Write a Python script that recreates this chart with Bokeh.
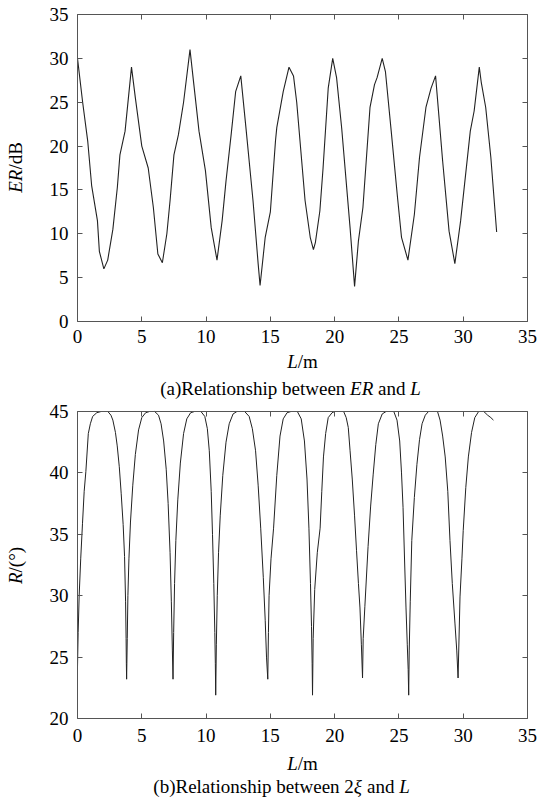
import math
from bokeh.plotting import figure
from bokeh.models import LinearAxis, Range1d, Label, FixedTicker
from bokeh.layouts import column
from bokeh.embed import file_html
from bokeh.resources import INLINE

# ---------------- data ----------------
L_er = [0.0, 0.4, 0.8, 1.1, 1.55, 1.7, 2.05, 2.35, 2.75, 3.1, 3.3, 3.7, 4.2, 4.5, 5.0, 5.5,
        5.9, 6.25, 6.6, 6.95, 7.2, 7.5, 7.85, 8.25, 8.75, 9.05, 9.45, 9.95, 10.4, 10.85,
        11.25, 11.55, 11.95, 12.3, 12.7, 13.1, 13.65, 14.05, 14.2, 14.6, 15.0, 15.4, 15.5,
        16.0, 16.45, 16.8, 17.05, 17.7, 18.1, 18.35, 18.5, 18.85, 19.1, 19.5, 19.85, 20.15,
        20.55, 21.2, 21.55, 21.85, 22.2, 22.75, 23.1, 23.3, 23.7, 23.95, 24.4, 24.9, 25.2,
        25.7, 26.2, 26.6, 27.1, 27.5, 27.85, 28.4, 28.9, 29.35, 29.8, 30.55, 30.85, 31.25,
        31.4, 31.75, 32.15, 32.6]
ER = [30.0, 25.0, 20.5, 15.5, 11.5, 8.0, 6.0, 7.0, 10.5, 15.3, 19.0, 21.7, 29.0, 25.5, 20.0,
      17.5, 13.0, 7.7, 6.7, 10.0, 13.8, 19.0, 21.3, 25.0, 31.0, 27.0, 21.7, 17.2, 10.7, 7.0,
      11.5, 16.0, 21.3, 26.2, 28.0, 22.1, 13.8, 6.6, 4.1, 9.6, 12.5, 20.6, 22.1, 26.2, 29.0,
      28.0, 25.0, 13.8, 9.6, 8.2, 9.0, 12.6, 17.5, 26.6, 30.0, 27.8, 22.0, 10.7, 4.0, 9.2,
      13.0, 24.4, 27.0, 27.8, 30.0, 28.5, 21.7, 14.0, 9.6, 7.0, 12.2, 18.7, 24.4, 26.6, 28.0,
      18.3, 10.3, 6.6, 11.5, 21.7, 24.0, 29.0, 27.3, 24.4, 18.7, 10.2]

L_r = [0.0, 0.05, 0.13, 0.25, 0.39, 0.52, 0.65, 0.84, 1.0, 1.18, 1.5, 1.83, 2.36, 2.6, 2.75,
       2.95, 3.09, 3.25, 3.4, 3.55, 3.66, 3.74, 3.78, 3.8, 3.82,
       3.87, 3.92, 4.0, 4.12, 4.3, 4.5, 4.75, 5.0, 5.3, 5.6, 6.0, 6.3, 6.5, 6.7, 6.9, 7.05,
       7.2, 7.3, 7.38, 7.43,
       7.48, 7.55, 7.65, 7.8, 8.0, 8.25, 8.5, 8.8, 9.1, 9.6, 9.9, 10.1, 10.25, 10.4, 10.5,
       10.6, 10.68, 10.72, 10.75,
       10.8, 10.87, 10.97, 11.1, 11.3, 11.55, 11.8, 12.1, 12.4, 13.0, 13.35, 13.6, 13.85,
       14.05, 14.25, 14.45, 14.6, 14.7, 14.8,
       14.85, 14.9, 15.05, 15.25, 15.5, 15.75, 16.0, 16.3, 16.6, 17.1, 17.4, 17.65, 17.85,
       18.0, 18.12, 18.2, 18.25, 18.28,
       18.33, 18.45, 18.65, 18.87, 19.0, 19.13, 19.3, 19.5, 19.8, 20.0, 20.7, 20.9, 21.06,
       21.2, 21.37, 21.55, 21.7, 21.85, 21.97, 22.08, 22.17,
       22.22, 22.35, 22.6, 22.8, 23.0, 23.2, 23.4, 23.7, 24.0, 24.6, 24.85, 25.06, 25.2,
       25.32, 25.45, 25.55, 25.65, 25.72, 25.76,
       25.8, 25.88, 26.0, 26.2, 26.4, 26.6, 26.8, 27.05, 27.3, 28.0, 28.2, 28.4, 28.6, 28.8,
       28.97, 29.15, 29.36, 29.5, 29.6,
       29.63, 29.75, 29.9, 30.0, 30.2, 30.4, 30.65, 30.9, 31.2, 31.6, 31.9, 32.15, 32.35]
R = [24.2, 27.0, 30.0, 33.0, 35.9, 38.5, 40.1, 43.2, 44.0, 44.6, 44.9, 45.0, 45.0, 44.7, 44.3,
     43.3, 42.2, 40.5, 38.3, 35.8, 33.2, 29.5, 26.5, 24.5, 23.2,
     26.5, 30.0, 33.0, 36.0, 39.0, 41.5, 43.5, 44.5, 44.9, 45.0, 45.0, 44.7, 44.0, 42.6, 40.3,
     37.5, 33.5, 29.5, 25.5, 23.2,
     27.0, 31.0, 34.5, 37.8, 40.8, 43.2, 44.4, 44.9, 45.0, 45.0, 44.6, 43.6, 41.8, 38.5, 35.0,
     31.0, 27.0, 24.5, 21.9,
     26.0, 30.0, 33.5, 36.5, 39.8, 42.5, 44.0, 44.8, 45.0, 45.0, 44.6, 43.6, 41.8, 39.0, 35.5,
     31.5, 28.0, 25.0, 23.2,
     27.0, 30.0, 33.0, 35.5, 39.8, 43.0, 44.4, 44.9, 45.0, 45.0, 44.4, 42.6, 39.5, 35.5, 31.0,
     27.5, 24.5, 21.9,
     26.5, 30.5, 33.5, 35.5, 38.5, 41.3, 43.2, 44.5, 44.9, 45.0, 45.0, 44.5, 43.7, 41.8, 39.5,
     36.5, 33.7, 31.0, 29.0, 26.0, 23.3,
     26.5, 29.1, 34.0, 37.3, 39.9, 42.3, 44.0, 44.8, 45.0, 45.0, 44.3, 42.6, 40.0, 37.2, 32.5,
     29.0, 26.0, 24.0, 21.9,
     25.5, 29.5, 34.5, 38.0, 40.7, 42.7, 44.0, 44.7, 45.0, 45.0, 44.3, 43.0, 41.3, 38.5, 34.5,
     31.0, 27.7, 25.5, 23.3,
     24.6, 29.9, 33.0, 35.3, 38.8, 41.3, 43.3, 44.5, 45.0, 45.0, 44.7, 44.5, 44.3]

x_lim = [0, 35]
er_lim = [0, 35]
r_lim = [20, 45]
x_ticks = [0, 5, 10, 15, 20, 25, 30, 35]
er_ticks = [0, 5, 10, 15, 20, 25, 30, 35]
r_ticks = [20, 25, 30, 35, 40, 45]

# ---------------- styling / layout ----------------
FONT = "Liberation Serif"
FS = 19
FRAME = "#555555"
LINE = "#222222"
W = 538
BOX_L, BOX_R = 77, 527          # pixel position of the plotting box (left / right)
BASE_FIX = 7                    # calibration of the label baseline

# Times / Liberation Serif advance widths (per 1000 em)
REG_W = {" ": 250, "(": 333, ")": 333, "/": 278, "°": 400, "2": 500, "a": 444, "b": 500,
         "d": 500, "e": 444, "h": 500, "i": 278, "l": 278, "m": 778, "n": 500, "o": 500,
         "p": 500, "s": 389, "t": 278, "w": 722, "B": 667, "R": 667, "L": 611}
ITA_W = {"E": 611, "R": 611, "L": 556, "ξ": 440, " ": 250}


def text_w(s, italic):
    table = ITA_W if italic else REG_W
    return sum(table.get(c, 500) for c in s) * FS / 1000.0


def rich_label(p, H, pieces, c, base, rotate=False):
    """Mixed regular/italic text. c = centre along the text direction, base = baseline,
    both in canvas pixels from the top-left corner."""
    total = sum(text_w(t, it) for t, it in pieces)
    pos = -total / 2.0
    base = base - BASE_FIX
    for t, it in pieces:
        w = text_w(t, it)
        lead = len(t) - len(t.lstrip(" "))
        start = pos + text_w(" " * lead, it)
        if rotate:
            x, y = base, H - (c + total / 2.0) + (start + total / 2.0)
        else:
            x, y = c + start, H - base
        p.add_layout(Label(x=x, y=y, x_units="screen", y_units="screen", text=t.strip(),
                           text_font=FONT, text_font_size=f"{FS}px",
                           text_font_style="italic" if it else "normal",
                           text_color="black", text_align="left",
                           text_baseline="alphabetic",
                           angle=math.pi / 2 if rotate else 0.0))
        pos += w


def add_axis(p, side, loc, bounds, ticks, labels, standoff=0):
    ax = LinearAxis(fixed_location=loc, bounds=tuple(bounds), ticker=FixedTicker(ticks=ticks))
    ax.major_tick_in = 5
    ax.major_tick_out = 0
    ax.minor_tick_in = 0
    ax.minor_tick_out = 0
    ax.axis_line_color = FRAME
    ax.major_tick_line_color = FRAME
    if labels:
        ax.major_label_text_font = FONT
        ax.major_label_text_font_size = f"{FS}px"
        ax.major_label_text_color = "black"
        ax.major_label_standoff = standoff
    else:
        ax.major_label_overrides = {t: "" for t in ticks}
        ax.major_label_text_font_size = "1px"
        ax.major_label_standoff = 0
    p.add_layout(ax, side)


def make_panel(H, box_top, box_bottom, ylim, yticks, xstand):
    xs = (x_lim[1] - x_lim[0]) / (BOX_R - BOX_L)
    ys = (ylim[1] - ylim[0]) / (box_bottom - box_top)
    xr = Range1d(x_lim[0] - BOX_L * xs, x_lim[1] + (W - BOX_R) * xs)
    yr = Range1d(ylim[0] - (H - box_bottom) * ys, ylim[1] + box_top * ys)
    p = figure(width=W, height=H, x_range=xr, y_range=yr, output_backend="svg",
               toolbar_location=None, x_axis_location=None, y_axis_location=None,
               min_border=0)
    p.grid.visible = False
    p.outline_line_color = None
    p.background_fill_color = "white"
    p.border_fill_color = "white"
    add_axis(p, "below", ylim[0], x_lim, x_ticks, True, xstand)
    add_axis(p, "left", x_lim[0], ylim, yticks, True, 9)
    add_axis(p, "above", ylim[1], x_lim, x_ticks, False)
    add_axis(p, "right", x_lim[1], ylim, yticks, False)
    return p


# ---------------- (a) ER vs L ----------------
H1 = 400
p1 = make_panel(H1, 14, 321, er_lim, er_ticks, 8)
p1.line(L_er, ER, line_color=LINE, line_width=1.1)
rich_label(p1, H1, [("ER", True), ("/dB", False)], 167, 22, rotate=True)
rich_label(p1, H1, [("L", True), ("/m", False)], 302, 368)
rich_label(p1, H1, [("(a)Relationship between ", False), ("ER", True), (" and ", False),
                    ("L", True)], 290, 395)

# ---------------- (b) R vs L ----------------
H2 = 401
p2 = make_panel(H2, 11, 318, r_lim, r_ticks, 10)
p2.line(L_r, R, line_color=LINE, line_width=1.0)
rich_label(p2, H2, [("R", True), ("/(°)", False)], 165, 22, rotate=True)
rich_label(p2, H2, [("L", True), ("/m", False)], 302, 370)
rich_label(p2, H2, [("(b)Relationship between 2", False), ("ξ", True), (" and ", False),
                    ("L", True)], 281, 393)

layout = column(p1, p2)
open("out.html", "w").write(file_html(layout, INLINE))
